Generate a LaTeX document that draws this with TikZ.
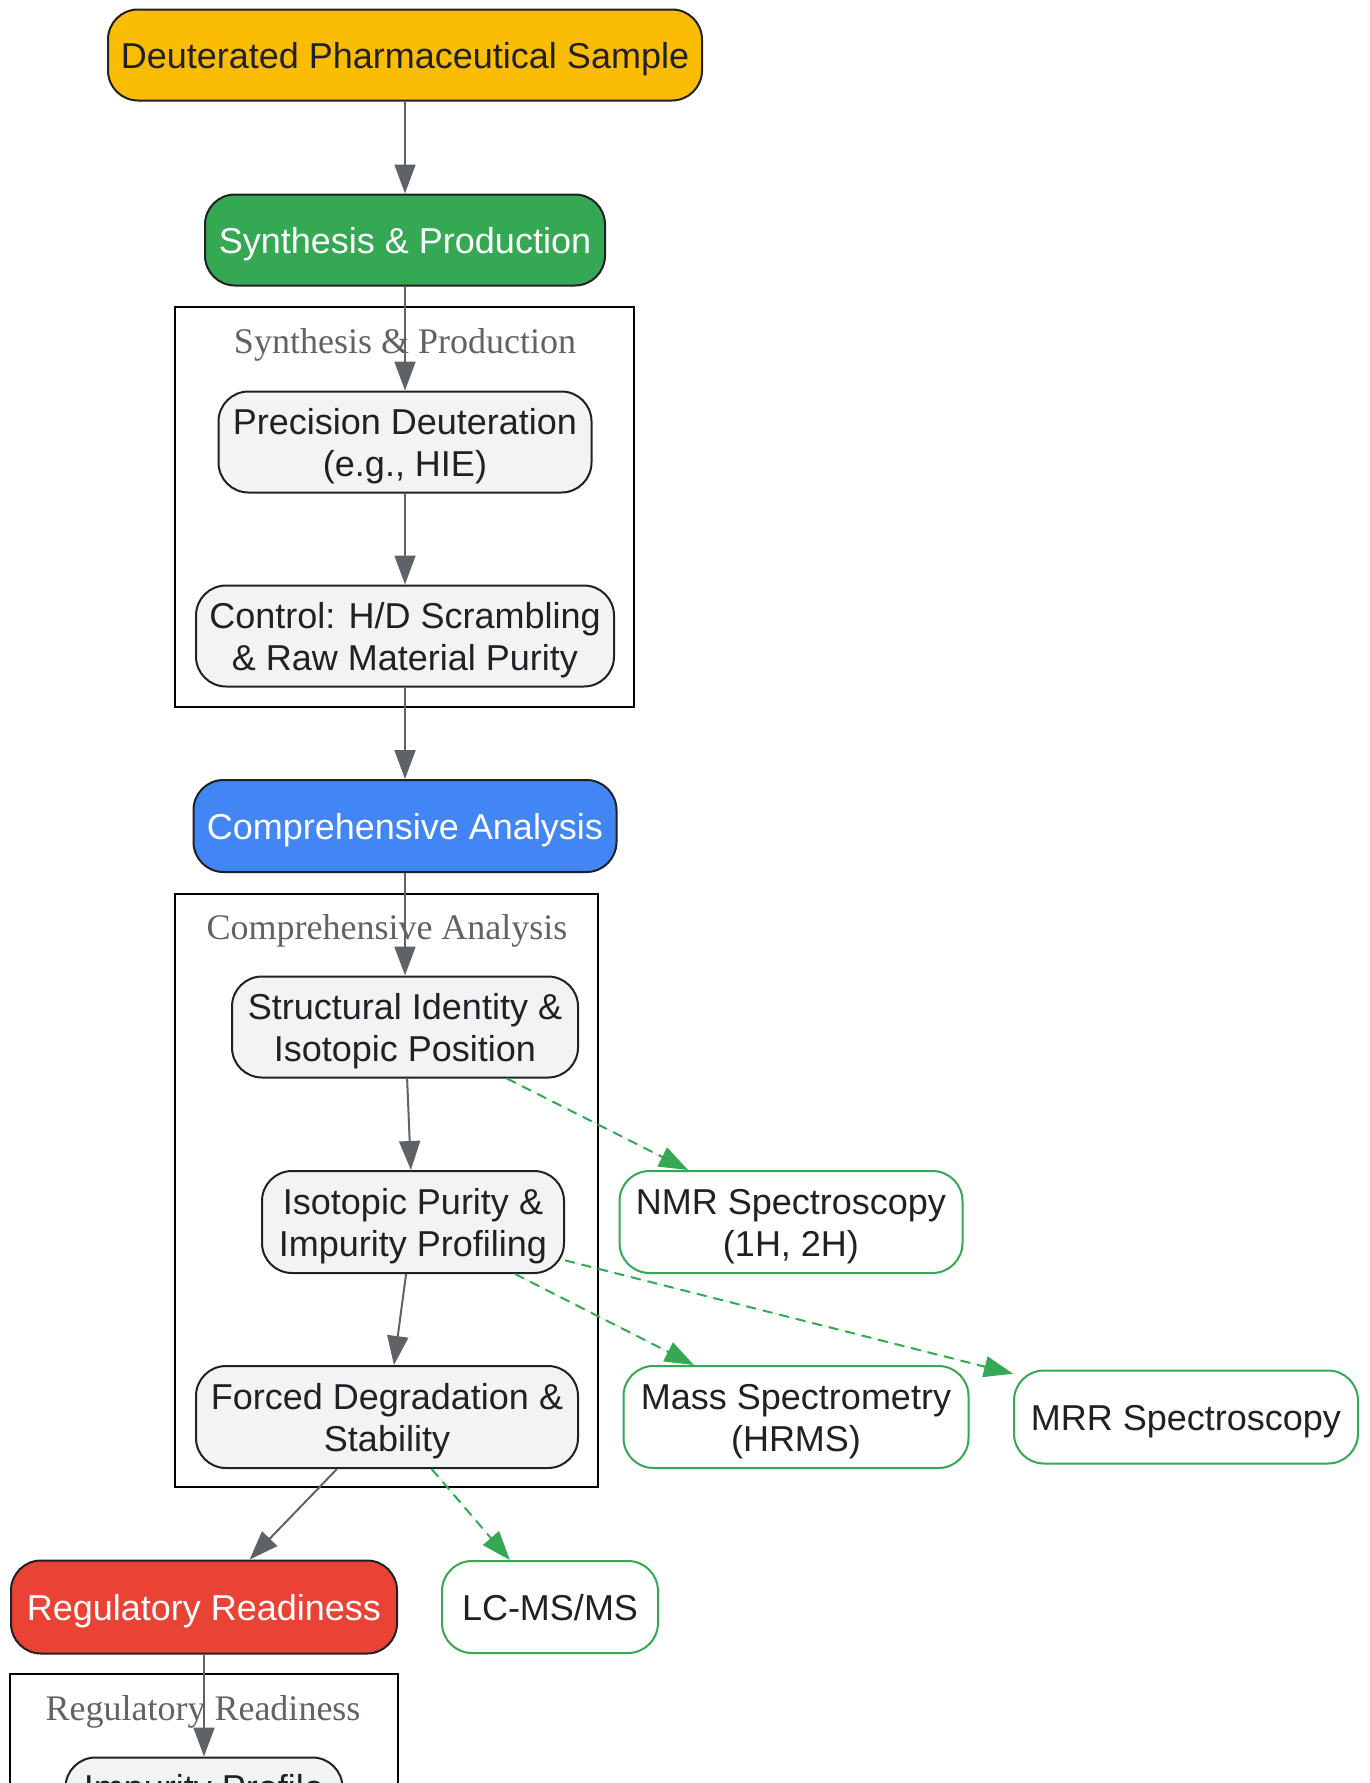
\documentclass[tikz,border=0pt]{standalone}
\usepackage{fontspec}
\setmainfont{Liberation Sans}
\newfontfamily\clusterfont{Liberation Serif}
\usetikzlibrary{arrows.meta}

\definecolor{gyellow}{HTML}{FBBC05}
\definecolor{ggreen}{HTML}{34A853}
\definecolor{gblue}{HTML}{4285F4}
\definecolor{gred}{HTML}{EA4335}
\definecolor{stepgray}{HTML}{F1F3F4}
\definecolor{edgegray}{HTML}{5F6368}
\definecolor{textdark}{HTML}{202124}

\begin{document}
\begin{tikzpicture}[x=1pt, y=-1pt,
  base node/.style={rectangle, rounded corners=30pt, draw=textdark, line width=2pt,
                    align=center, inner sep=0pt, font=\fontsize{36}{42}\selectfont,
                    execute at begin node={\rule[-8pt]{0pt}{43pt}}},
  two lines/.style={execute at begin node={\rule{0pt}{77pt}}},
  phase node/.style={base node, text=white},
  step node/.style={base node, fill=stepgray, text=textdark, two lines},
  tech node/.style={base node, draw=ggreen, fill=white, text=textdark},
  flow/.style={-{Triangle[length=29pt,width=21pt]}, draw=edgegray, fill=edgegray, line width=2pt},
  tech flow/.style={-{Triangle[length=29pt,width=21pt]}, draw=ggreen, fill=ggreen, line width=2pt,
                    dash pattern=on 10pt off 7pt},
  cluster/.style={draw=black, line width=2.5pt},
  cluster label/.style={text=edgegray, font=\clusterfont\fontsize{36}{42}\selectfont}]

\useasboundingbox (0,0) rectangle (1369,1783);

% clusters
\draw[cluster] (175,307) rectangle (634,707);
\node[cluster label](c1) at (405,345) {Synthesis \& Production};
\draw[cluster] (175,894) rectangle (598,1487);
\node[cluster label](c2) at (387,931) {Comprehensive Analysis};
\draw[cluster] (10,1674) rectangle (398,1820);
\node[cluster label](c3) at (203,1712) {Regulatory Readiness};

% main phases
\node[base node, fill=gyellow, text=textdark, minimum width=594pt, minimum height=91pt](1) at (405,55)
  {Deuterated Pharmaceutical Sample};
\node[phase node, fill=ggreen, minimum width=400pt, minimum height=91pt](2) at (405,240)
  {Synthesis \& Production};
\node[phase node, fill=gblue, minimum width=423pt, minimum height=92pt](5) at (405,826)
  {Comprehensive Analysis};
\node[phase node, fill=gred, minimum width=386pt, minimum height=93pt](9) at (204,1607)
  {Regulatory Readiness};

% steps
\node[step node, minimum width=373pt, minimum height=101pt](3) at (405,442)
  {Precision Deuteration\\(e.g., HIE)};
\node[step node, minimum width=418pt, minimum height=101pt](4) at (405,636)
  {Control: H/D Scrambling\\\& Raw Material Purity};
\node[step node, minimum width=346pt, minimum height=101pt](6) at (405,1027)
  {Structural Identity \&\\Isotopic Position};
\node[step node, minimum width=302pt, minimum height=102pt](7) at (413,1222)
  {Isotopic Purity \&\\Impurity Profiling};
\node[step node, minimum width=382pt, minimum height=102pt](8) at (387,1417)
  {Forced Degradation \&\\Stability};
\node[step node, minimum width=277pt, minimum height=101pt](10) at (204,1808)
  {Impurity Profile\\\mbox{}};

% techniques
\node[tech node, two lines, minimum width=343pt, minimum height=102pt](11) at (791,1222)
  {NMR Spectroscopy\\(1H, 2H)};
\node[tech node, two lines, minimum width=345pt, minimum height=102pt](12) at (796,1417)
  {Mass Spectrometry\\(HRMS)};
\node[tech node, minimum width=344pt, minimum height=93pt](13) at (1186,1417)
  {MRR Spectroscopy};
\node[tech node, minimum width=216pt, minimum height=92pt](14) at (550,1607)
  {LC-MS/MS};

\draw[flow] (1) -- (2);
\draw[flow] (2) -- (3);
\draw[flow] (3) -- (4);
\draw[flow] (4) -- (5);
\draw[flow] (5) -- (6);
\draw[flow] (6) -- (7);
\draw[flow] (7) -- (8);
\draw[flow] (8) -- (9);
\draw[flow] (9) -- (10);

\draw[tech flow] (6) -- (11);
\draw[tech flow] (7) -- (12);
\draw[tech flow] (7) -- (13);
\draw[tech flow] (8) -- (14);

\end{tikzpicture}
\end{document}
